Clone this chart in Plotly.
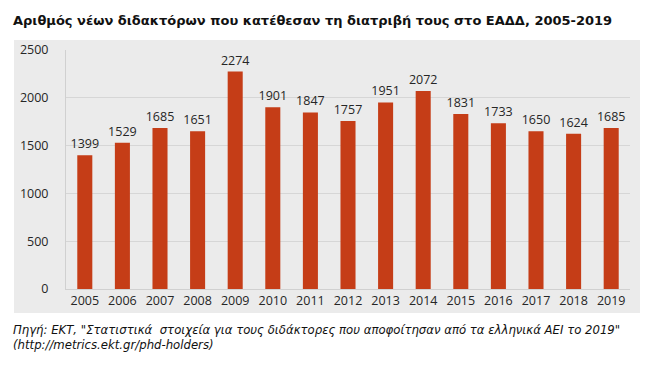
import plotly.graph_objects as go

years = ["2005", "2006", "2007", "2008", "2009", "2010", "2011", "2012",
         "2013", "2014", "2015", "2016", "2017", "2018", "2019"]
phds = [1399, 1529, 1685, 1651, 2274, 1901, 1847, 1757, 1951, 2072,
        1831, 1733, 1650, 1624, 1685]
y_ticks = [0, 500, 1000, 1500, 2000, 2500]

title_text = "Αριθμός νέων διδακτόρων που κατέθεσαν τη διατριβή τους στο ΕΑΔΔ, 2005-2019"
source_text = ("Πηγή: ΕΚΤ, \"Στατιστικά  στοιχεία για τους διδάκτορες που αποφοίτησαν από τα ελληνικά ΑΕΙ το 2019\""
               "<br>(http://metrics.ekt.gr/phd-holders)")

# page body has an 8px default margin; work in figure pixels = page pixels - 8
OFF = 8
W, H = 650 - OFF, 384 - OFF
ml, mr, mt, mb = 66 - OFF, 20, 50 - OFF, 95
pw = W - ml - mr
ph = H - mt - mb

def px_x(x):
    return (x - OFF - ml) / pw

def px_y(y):
    return (H - mb - (y - OFF)) / ph

bar_color = "#C53D17"
panel = "#EBEBEB"

fig = go.Figure()
fig.add_trace(go.Bar(
    x=years, y=phds, marker=dict(color=bar_color, line=dict(width=0)),
    text=[str(v) for v in phds], textposition="outside",
    constraintext="none",
    textfont=dict(family="Open Sans, Lato, sans-serif", size=12.5, color="#262626"),
    cliponaxis=False,
))

fig.add_shape(type="rect", xref="paper", yref="paper",
              x0=px_x(14), x1=px_x(640), y0=px_y(313), y1=px_y(40),
              fillcolor=panel, line=dict(width=0), layer="below")

fig.add_annotation(text="<b>" + title_text + "</b>", xref="paper", yref="paper",
                   x=px_x(11), y=px_y(20), xanchor="left", yanchor="middle",
                   showarrow=False,
                   font=dict(family="DejaVu Sans, Verdana, sans-serif", size=13, color="#111111"))
fig.add_annotation(text="<i>" + source_text + "</i>", xref="paper", yref="paper",
                   x=px_x(11), y=px_y(321), xanchor="left", yanchor="top",
                   showarrow=False, align="left",
                   font=dict(family="DejaVu Sans, Verdana, sans-serif", size=11.7, color="#111111"))

fig.update_layout(
    width=W, height=H,
    margin=dict(l=ml, r=mr, t=mt, b=mb),
    paper_bgcolor="white", plot_bgcolor=panel,
    showlegend=False, bargap=0.6,
    xaxis=dict(showgrid=False, ticks="", showline=True, linecolor="#D0D0D0",
               tickfont=dict(family="Open Sans, Lato, sans-serif", size=12.5, color="#262626")),
    yaxis=dict(range=[0, 2500], tickvals=y_ticks, showgrid=True, gridcolor="#D6D6D6",
               zeroline=False, showline=True, linecolor="#D0D0D0", ticks="",
               ticklabelstandoff=14,
               tickfont=dict(family="Open Sans, Lato, sans-serif", size=12.5, color="#262626")),
)

fig.write_html("out.html")
